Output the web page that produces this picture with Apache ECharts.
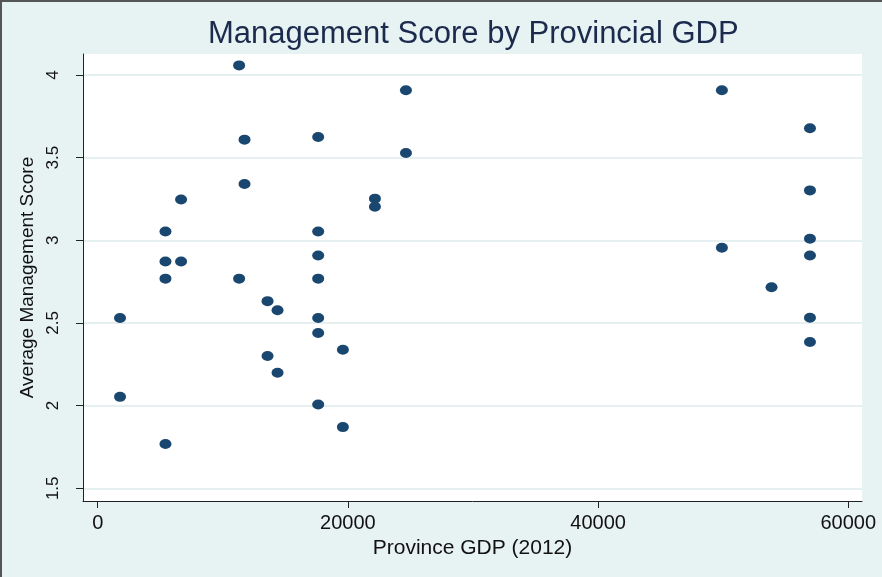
<!DOCTYPE html>
<html>
<head>
<meta charset="utf-8">
<script src="https://cdn.jsdelivr.net/npm/echarts@6/dist/echarts.min.js"></script>
<style>
html,body{margin:0;padding:0;background:#e7f2f3;}
#chart{width:882px;height:577px;}
</style>
</head>
<body>
<div id="chart"></div>
<script>
// Province GDP (2012) for each province
const gdp = [11304, 11736, 17624, 24640, 24640, 49896, 56936, 11736, 6664, 22160,
             22160, 56936, 5416, 17624, 56936, 49896, 17624, 56936, 5416, 6664,
             5416, 11304, 17624, 53864, 13576, 14376, 1784, 17624, 56936, 17624,
             19600, 56936, 13576, 14376, 1784, 17624, 19600, 5416];
// Average management score
const score = [4.058, 3.609, 3.625, 3.908, 3.528, 3.908, 3.678, 3.341, 3.247, 3.252,
               3.203, 3.302, 3.053, 3.053, 3.009, 2.955, 2.908, 2.908, 2.872, 2.872,
               2.768, 2.768, 2.768, 2.716, 2.632, 2.577, 2.530, 2.530, 2.532, 2.439,
               2.338, 2.385, 2.300, 2.199, 2.053, 2.007, 1.870, 1.768];
const xTicks = [0, 20000, 40000, 60000];
const yTicks = [1.5, 2, 2.5, 3, 3.5, 4];

const points = gdp.map((g, i) => [g, score[i]]);
const font = 'Liberation Sans, Arial, Helvetica, sans-serif';

const chart = echarts.init(document.getElementById('chart'), null, {renderer: 'canvas'});
chart.setOption({
  backgroundColor: '#e7f2f3',
  animation: false,
  title: {
    text: 'Management Score by Provincial GDP',
    left: 203,
    top: 14,
    textStyle: {fontFamily: font, fontSize: 31, fontWeight: 'normal', color: '#1b2a4d'}
  },
  graphic: [
    {type: 'rect', shape: {x: 0, y: 0, width: 882, height: 2}, style: {fill: '#555'}},
    {type: 'rect', shape: {x: 0, y: 0, width: 2, height: 577}, style: {fill: '#555'}}
  ],
  grid: {
    left: 83, right: 20, top: 54, bottom: 76,
    show: true, backgroundColor: '#ffffff', borderWidth: 0
  },
  xAxis: {
    type: 'value',
    min: -1176, max: 61096,
    name: 'Province GDP (2012)',
    nameLocation: 'middle',
    nameGap: 35,
    nameTextStyle: {fontFamily: font, fontSize: 21, color: '#111'},
    axisLine: {show: true, onZero: false, lineStyle: {color: '#222', width: 1}},
    axisTick: {show: true, length: 7, customValues: xTicks, lineStyle: {color: '#222'}},
    axisLabel: {customValues: xTicks, margin: 12, fontFamily: font, fontSize: 20, color: '#111',
                formatter: v => String(v)},
    splitLine: {show: false}
  },
  yAxis: {
    type: 'value',
    min: 1.423, max: 4.127,
    name: 'Average Management Score',
    nameLocation: 'middle',
    nameGap: 38,
    nameTextStyle: {fontFamily: font, fontSize: 19, color: '#111'},
    axisLine: {show: true, onZero: false, lineStyle: {color: '#222', width: 1}},
    axisTick: {show: true, length: 7, customValues: yTicks, lineStyle: {color: '#222'}},
    axisLabel: {customValues: yTicks, rotate: 90, margin: 21, fontFamily: font, fontSize: 17, color: '#111',
                formatter: v => String(v)},
    splitLine: {show: true, customValues: yTicks, lineStyle: {color: '#e6f0f1', width: 2}}
  },
  series: [{
    type: 'scatter',
    data: points,
    symbol: 'circle',
    symbolSize: [12, 10],
    itemStyle: {color: '#1a476f', opacity: 1}
  }]
});
</script>
</body>
</html>
